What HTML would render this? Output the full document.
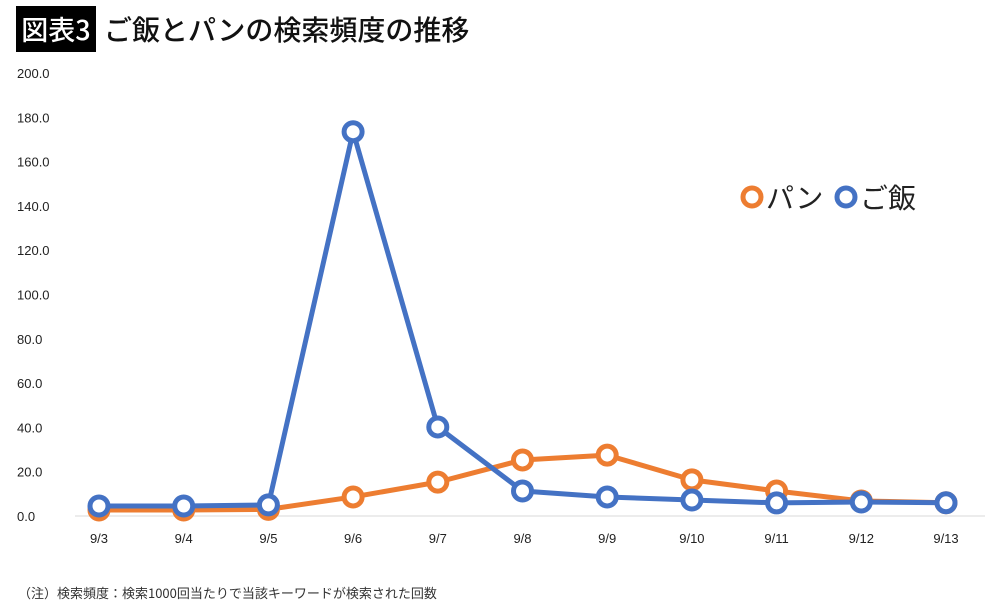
<!DOCTYPE html>
<html><head><meta charset="utf-8">
<style>
body{margin:0;width:1000px;height:610px;background:#fff;overflow:hidden;font-family:"Liberation Sans","Noto Sans CJK JP",sans-serif;}
#title-box{position:absolute;left:16px;top:6px;width:80px;height:46px;background:#000;color:#fff;font-size:27px;line-height:46px;text-align:center;font-family:"Noto Sans CJK JP",sans-serif;font-weight:500;}
#title{position:absolute;left:104px;top:6px;height:46px;line-height:46px;font-size:28px;color:#111;font-family:"Noto Sans CJK JP",sans-serif;font-weight:500;}
#note{position:absolute;left:18px;top:583px;font-size:13px;color:#333;font-family:"Noto Sans CJK JP",sans-serif;}
svg{position:absolute;left:0;top:0;}
</style></head><body>
<div id="title-box">図表3</div>
<div id="title">ご飯とパンの検索頻度の推移</div>
<svg id="chart" width="1000" height="610"></svg>
<div id="note">（注）検索頻度：検索1000回当たりで当該キーワードが検索された回数</div>
<script>
const categories=["9/3","9/4","9/5","9/6","9/7","9/8","9/9","9/10","9/11","9/12","9/13"];
const gohan=[4.5,4.5,5,173.5,40.2,11.3,8.6,7.2,5.9,6.3,6];
const pan=[2.7,2.7,3,8.6,15.3,25.3,27.5,16.3,11.3,6.8,6];
const yTicks=[0,20,40,60,80,100,120,140,160,180,200];
const NS="http://www.w3.org/2000/svg";
const svg=document.getElementById('chart');
const x0=99,x1=946,yBase=516,yTop=73;
const xs=i=>x0+(x1-x0)*i/(categories.length-1);
const ys=v=>yBase-(yBase-yTop)*v/200;
function mk(t,a){const e=document.createElementNS(NS,t);for(const k in a)e.setAttribute(k,a[k]);svg.appendChild(e);return e;}
const base=mk('line',{x1:75,x2:985,y1:yBase,y2:yBase,stroke:'#d9d9d9','stroke-width':1});


yTicks.forEach(v=>{const t=mk('text',{x:17,y:ys(v)+5,'font-size':13,fill:'#222'});t.textContent=v.toFixed(1);

});
categories.forEach((c,i)=>{const t=mk('text',{x:xs(i),y:543,'font-size':13,fill:'#222','text-anchor':'middle'});t.textContent=c;

});
function series(d,col,name){
 const p=mk('polyline',{points:d.map((v,i)=>xs(i)+','+ys(v)).join(' '),fill:'none',stroke:col,'stroke-width':5,'stroke-linejoin':'round'});
 
 
 d.forEach((v,i)=>{const c=mk('circle',{cx:xs(i),cy:ys(v),r:9,fill:'#fff',stroke:col,'stroke-width':5});
 
 });
}
series(pan,'#ed7d31','pan');
series(gohan,'#4472c4','gohan');
function legend(x,col,label,name){
 const c=mk('circle',{cx:x,cy:197,r:9,fill:'#fff',stroke:col,'stroke-width':5});
 
 
 const t=mk('text',{x:x+14,y:208,'font-size':28,fill:'#222','font-family':'"Noto Sans CJK JP",sans-serif'});t.textContent=label;
 
 
}
legend(752,'#ed7d31','パン','pan');
legend(846,'#4472c4','ご飯','gohan');
</script>
</body></html>
